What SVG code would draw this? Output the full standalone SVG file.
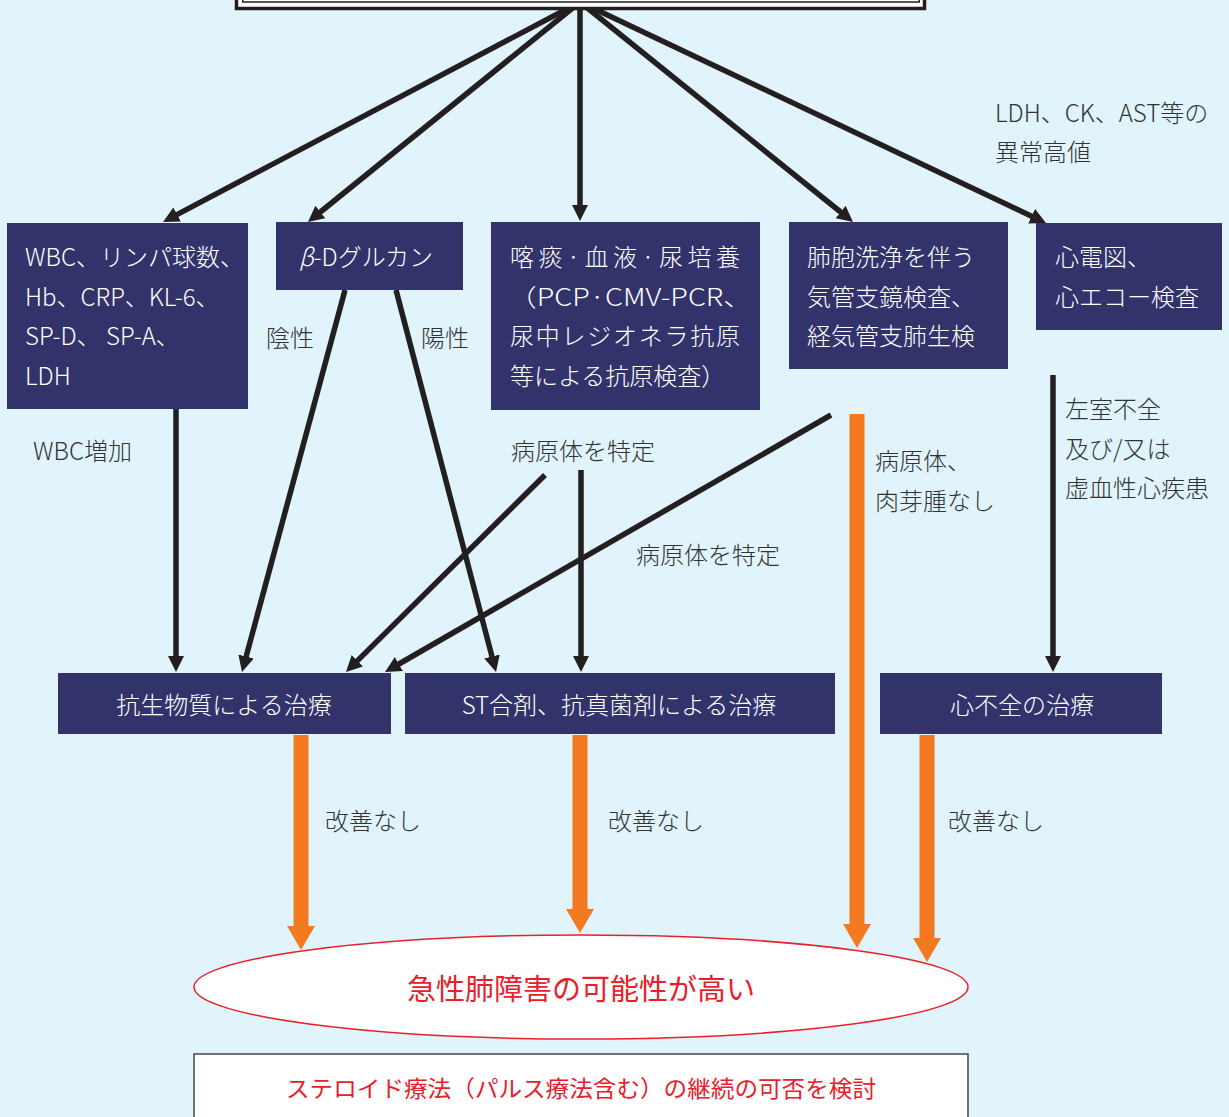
<svg xmlns="http://www.w3.org/2000/svg" width="1229" height="1117" viewBox="0 0 1229 1117">
<style>
.bg{fill:#E1F4FB}
.box{fill:#33336B}
.nt{fill:#FFFFFF;font-family:"Noto Sans CJK JP","Noto Sans",sans-serif;font-size:24px;font-weight:300}
.lb{fill:#333333;font-family:"Noto Sans CJK JP","Noto Sans",sans-serif;font-size:24px;font-weight:300}
.rt{fill:#E8202A;font-family:"Noto Sans CJK JP","Noto Sans",sans-serif;font-weight:400}
.mid{text-anchor:middle}
.k{stroke:#231F20;stroke-width:5.5;fill:none;marker-end:url(#ah)}
.o{stroke:#F47A20;stroke-width:15;fill:none;marker-end:url(#oh)}
</style>
<defs>
<marker id="ah" markerUnits="userSpaceOnUse" viewBox="0 0 16 16" refX="4" refY="8" markerWidth="16" markerHeight="16" orient="auto">
<path d="M0,0 L16,8 L0,16 Z" fill="#231F20"/>
</marker>
<marker id="oh" markerUnits="userSpaceOnUse" viewBox="0 0 24 28" refX="2" refY="14" markerWidth="24" markerHeight="28" orient="auto">
<path d="M0,0 L24,14 L0,28 Z" fill="#F47A20"/>
</marker>
</defs>
<rect class="bg" x="0" y="0" width="1229" height="1117"/>

<g id="connectors">
<line class="k" x1="580" y1="2" x2="173.6" y2="216.4"/>
<line class="k" x1="580" y1="2" x2="317.3" y2="214.5"/>
<line class="k" x1="580" y1="2" x2="580" y2="209"/>
<line class="k" x1="580" y1="2" x2="843.7" y2="214.5"/>
<line class="k" x1="580" y1="2" x2="1035.2" y2="217.9"/>
<line class="k" x1="176" y1="409" x2="176" y2="660"/>
<line class="k" x1="345" y1="290" x2="245.1" y2="660.4"/>
<line class="k" x1="396" y1="290" x2="493" y2="660.4"/>
<line class="k" x1="545" y1="475" x2="354.5" y2="663.6"/>
<line class="k" x1="581" y1="470" x2="581" y2="660"/>
<line class="k" x1="831" y1="415" x2="395.4" y2="666"/>
<line class="k" x1="1053" y1="375" x2="1053" y2="660"/>
<line class="o" x1="301" y1="735" x2="301" y2="928"/>
<line class="o" x1="580" y1="735" x2="580" y2="911"/>
<line class="o" x1="857" y1="414" x2="857" y2="926"/>
<line class="o" x1="927" y1="735" x2="927" y2="940"/>
</g>

<g id="top-box">
<rect x="236.5" y="-20" width="688" height="28.5" fill="#FFFFFF" stroke="#231F20" stroke-width="3.5"/>
<rect x="242.7" y="-20" width="676.6" height="22" fill="none" stroke="#231F20" stroke-width="1.5"/>
</g>

<g id="node-wbc">
<rect class="box" x="7" y="223" width="241" height="186"/>
<text class="nt" x="25" y="266">WBC、リンパ球数、</text>
<text class="nt" x="25" y="306">Hb、CRP、KL-6、</text>
<text class="nt" x="25" y="345">SP-D、 SP-A、</text>
<text class="nt" x="25" y="385">LDH</text>
</g>

<g id="node-bdg">
<rect class="box" x="276" y="222" width="187" height="68"/>
<text class="nt" x="299" y="266"><tspan font-style="italic">β</tspan>-Dグルカン</text>
</g>

<g id="node-culture">
<rect class="box" x="491" y="222" width="269" height="188"/>
<text class="nt" x="510" y="266" textLength="230" lengthAdjust="spacing">喀痰·血液·尿培養</text>
<text class="nt" x="508" y="306" textLength="244" lengthAdjust="spacingAndGlyphs">（PCP·CMV-PCR、</text>
<text class="nt" x="510" y="345" textLength="230" lengthAdjust="spacing">尿中レジオネラ抗原</text>
<text class="nt" x="510" y="385">等による抗原検査）</text>
</g>

<g id="node-bal">
<rect class="box" x="789" y="222" width="219" height="147"/>
<text class="nt" x="807" y="266">肺胞洗浄を伴う</text>
<text class="nt" x="807" y="306">気管支鏡検査、</text>
<text class="nt" x="807" y="345">経気管支肺生検</text>
</g>

<g id="node-ecg">
<rect class="box" x="1036" y="223" width="186" height="107"/>
<text class="nt" x="1055" y="266">心電図、</text>
<text class="nt" x="1055" y="306">心エコー検査</text>
</g>

<g id="node-antibiotic">
<rect class="box" x="58" y="673" width="333" height="61"/>
<text class="nt mid" x="224" y="714">抗生物質による治療</text>
</g>

<g id="node-st">
<rect class="box" x="405" y="673" width="430" height="61"/>
<text class="nt mid" x="619" y="714">ST合剤、抗真菌剤による治療</text>
</g>

<g id="node-heart">
<rect class="box" x="880" y="673" width="282" height="61"/>
<text class="nt mid" x="1022" y="714">心不全の治療</text>
</g>

<g id="node-ali">
<ellipse cx="581" cy="987" rx="387" ry="52" fill="#FFFFFF" stroke="#E8202A" stroke-width="1.5"/>
<text class="rt mid" x="581" y="1000" font-size="29">急性肺障害の可能性が高い</text>
</g>

<g id="node-steroid">
<rect x="194" y="1054" width="774" height="80" fill="#FFFFFF" stroke="#444444" stroke-width="1.5"/>
<text class="rt mid" x="581" y="1097" font-size="23" textLength="590" lengthAdjust="spacingAndGlyphs">ステロイド療法（パルス療法含む）の継続の可否を検討</text>
</g>

<g id="labels">
<text class="lb" x="995" y="122">LDH、CK、AST等の</text>
<text class="lb" x="995" y="161">異常高値</text>
<text class="lb" x="33" y="460">WBC増加</text>
<text class="lb" x="266" y="347">陰性</text>
<text class="lb" x="421" y="347">陽性</text>
<text class="lb" x="511" y="460">病原体を特定</text>
<text class="lb" x="636" y="564">病原体を特定</text>
<text class="lb" x="875" y="470">病原体、</text>
<text class="lb" x="875" y="510">肉芽腫なし</text>
<text class="lb" x="1065" y="418">左室不全</text>
<text class="lb" x="1065" y="458">及び/又は</text>
<text class="lb" x="1065" y="497">虚血性心疾患</text>
<text class="lb" x="325" y="830">改善なし</text>
<text class="lb" x="608" y="830">改善なし</text>
<text class="lb" x="948" y="830">改善なし</text>
</g>
</svg>
